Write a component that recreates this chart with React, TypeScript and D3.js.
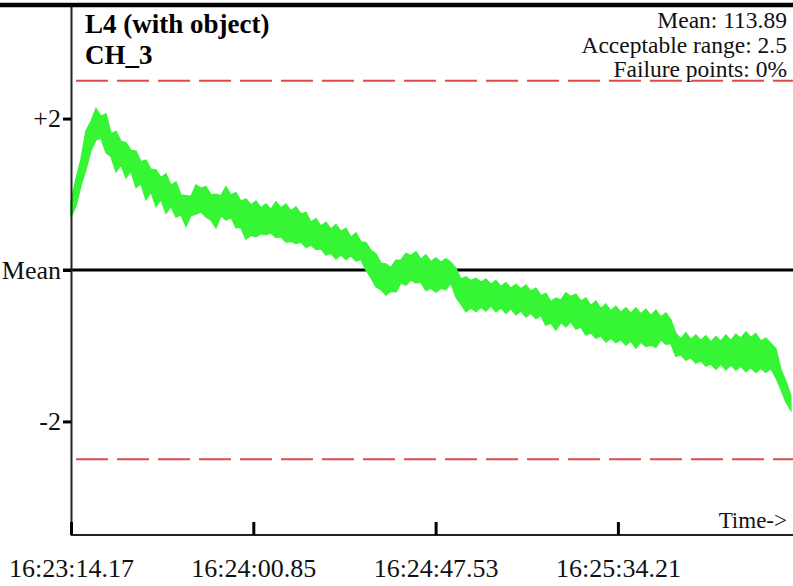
import { useRef, useEffect } from 'react';
import * as d3 from 'd3';

// deviation from mean, per-sample max / min of the signal (one sample every SAMPLE_DT seconds)
const upper = [
  0.9, 1.2, 1.46, 1.84, 1.96, 2.13, 2.03, 2.06, 1.8, 1.83, 1.7, 1.68, 1.58, 1.57, 1.43, 1.45, 1.33, 1.32, 1.22, 1.27,
  1.12, 1.16, 0.99, 0.98, 0.97, 1.12, 1.08, 1.1, 0.99, 1.0, 0.98, 1.1, 0.99, 1.02, 0.91, 0.94, 0.86, 0.91, 0.82, 0.87,
  0.8, 0.9, 0.82, 0.87, 0.78, 0.83, 0.74, 0.76, 0.63, 0.68, 0.58, 0.63, 0.54, 0.6, 0.51, 0.55, 0.43, 0.49, 0.37, 0.36,
  0.26, 0.21, 0.09, 0.08, 0.03, 0.13, 0.13, 0.22, 0.19, 0.24, 0.14, 0.2, 0.11, 0.16, 0.1, 0.15, 0.1, 0.02, -0.12, -0.09,
  -0.14, -0.11, -0.16, -0.12, -0.19, -0.14, -0.22, -0.17, -0.24, -0.19, -0.25, -0.2, -0.28, -0.24, -0.34, -0.31, -0.42, -0.37, -0.4, -0.3,
  -0.35, -0.32, -0.41, -0.37, -0.47, -0.41, -0.51, -0.45, -0.54, -0.48, -0.56, -0.5, -0.57, -0.5, -0.58, -0.52, -0.6, -0.53, -0.62, -0.57,
  -0.66, -0.84, -0.91, -0.83, -0.92, -0.86, -0.93, -0.87, -0.95, -0.88, -0.94, -0.86, -0.93, -0.85, -0.9, -0.82, -0.89, -0.84, -0.94, -0.9,
  -0.97, -1.04, -1.31, -1.47, -1.66,
];
const lower = [
  0.7, 0.85, 1.12, 1.33, 1.58, 1.72, 1.74, 1.55, 1.5, 1.3, 1.39, 1.22, 1.31, 1.09, 1.14, 0.93, 1.03, 0.84, 0.93, 0.75,
  0.84, 0.7, 0.73, 0.58, 0.72, 0.74, 0.77, 0.7, 0.66, 0.56, 0.72, 0.66, 0.7, 0.56, 0.56, 0.41, 0.46, 0.44, 0.48, 0.47,
  0.49, 0.43, 0.44, 0.37, 0.38, 0.35, 0.37, 0.3, 0.33, 0.27, 0.28, 0.2, 0.22, 0.15, 0.2, 0.14, 0.19, 0.12, 0.14, 0.0,
  -0.1, -0.22, -0.26, -0.33, -0.28, -0.29, -0.17, -0.2, -0.13, -0.17, -0.16, -0.27, -0.24, -0.29, -0.24, -0.26, -0.17, -0.36, -0.45, -0.55,
  -0.5, -0.55, -0.49, -0.54, -0.47, -0.55, -0.5, -0.57, -0.51, -0.59, -0.54, -0.62, -0.57, -0.64, -0.6, -0.73, -0.7, -0.79, -0.69, -0.75,
  -0.68, -0.78, -0.75, -0.86, -0.83, -0.9, -0.87, -0.95, -0.9, -0.96, -0.92, -0.99, -0.94, -1.03, -0.95, -1.01, -0.99, -1.02, -0.92, -0.98,
  -0.97, -1.14, -1.12, -1.19, -1.16, -1.23, -1.2, -1.27, -1.24, -1.31, -1.24, -1.32, -1.25, -1.32, -1.27, -1.34, -1.29, -1.35, -1.3, -1.35,
  -1.3, -1.42, -1.57, -1.74, -1.85,
];
const SAMPLE_DT = 1.28;

const tickTimes = [0, 46.68, 93.36, 140.04];
const tickLabels = ['16:23:14.17', '16:24:00.85', '16:24:47.53', '16:25:34.21'];
const yTicks = [2, 0, -2];
const yTickLabels = ['+2', 'Mean', '-2'];
const limit = 2.5;
const infoLines = ['Mean: 113.89', 'Acceptable range: 2.5', 'Failure points: 0%'];

const App = () => {
  const svgRef = useRef<SVGSVGElement>(null);

  useEffect(() => {
    if (!svgRef.current) return;
    const width = 793;
    const height = 586;
    const left = 71;
    const right = 793;
    const top = 5;
    const bottom = 535;
    const font = '"Liberation Serif", "Times New Roman", serif';

    const svg = d3.select(svgRef.current).attr('width', width).attr('height', height);
    svg.selectAll('*').remove();

    const x = d3.scaleLinear().domain([0, 186.72]).range([left, left + 4 * 182.3]);
    const y = d3.scaleLinear().domain([-3.5, 3.5]).range([bottom, top]);

    // limits
    [limit, -limit].forEach((v) => {
      svg.append('line')
        .attr('x1', 76).attr('x2', right)
        .attr('y1', y(v)).attr('y2', y(v))
        .attr('stroke', '#e04a4a').attr('stroke-width', 2)
        .attr('stroke-dasharray', '32 9');
    });

    svg.append('line')
      .attr('x1', left - 8).attr('x2', right)
      .attr('y1', y(0)).attr('y2', y(0))
      .attr('stroke', '#000').attr('stroke-width', 3);

    const area = d3.area<number>()
      .x((_, i) => x(i * SAMPLE_DT))
      .y0((_, i) => y(lower[i]))
      .y1((d) => y(d));

    svg.append('path')
      .datum(upper)
      .attr('d', area)
      .attr('fill', '#35f535')
      .attr('stroke', '#35f535')
      .attr('stroke-width', 1.5);

    // left axis
    const yAxis = svg.append('g')
      .attr('transform', `translate(${left},0)`)
      .call(d3.axisLeft(y).tickValues(yTicks).tickFormat((_, i) => yTickLabels[i]).tickSizeInner(8).tickSizeOuter(0).tickPadding(2));
    yAxis.select('.domain').attr('stroke', '#222').attr('stroke-width', 2);
    yAxis.selectAll('.tick line').attr('stroke', '#000').attr('stroke-width', 3);
    yAxis.selectAll('.tick text').attr('font-family', font).attr('font-size', 26).attr('fill', '#111');

    // bottom axis
    const xAxis = svg.append('g')
      .attr('transform', `translate(0,${bottom})`)
      .call(d3.axisBottom(x).tickValues(tickTimes).tickFormat((_, i) => tickLabels[i]).tickSizeInner(-13).tickSizeOuter(0).tickPadding(24));
    xAxis.select('.domain').attr('d', `M${left},0H${right}`).attr('stroke', '#222').attr('stroke-width', 2);
    xAxis.selectAll('.tick line').attr('stroke', '#000').attr('stroke-width', 3);
    xAxis.selectAll('.tick text').attr('font-family', font).attr('font-size', 26).attr('fill', '#111');

    // top border
    svg.append('line')
      .attr('x1', 0).attr('x2', width).attr('y1', top).attr('y2', top)
      .attr('stroke', '#000').attr('stroke-width', 4.5);

    svg.append('text')
      .attr('x', 85).attr('y', 33)
      .attr('font-family', font).attr('font-size', 27).attr('font-weight', 'bold')
      .text('L4 (with object)');
    svg.append('text')
      .attr('x', 85).attr('y', 64)
      .attr('font-family', font).attr('font-size', 27).attr('font-weight', 'bold')
      .text('CH_3');

    svg.selectAll('.info')
      .data(infoLines)
      .enter()
      .append('text')
      .attr('x', 787)
      .attr('y', (_, i) => 28 + i * 24.5)
      .attr('text-anchor', 'end')
      .attr('font-family', font).attr('font-size', 23.5).attr('fill', '#111')
      .text((d) => d);

    svg.append('text')
      .attr('x', 787).attr('y', 528)
      .attr('text-anchor', 'end')
      .attr('font-family', font).attr('font-size', 23).attr('fill', '#111')
      .text('Time->');
  }, []);

  return <svg ref={svgRef} style={{ position: 'absolute', left: 0, top: 0, background: '#fff' }}></svg>;
};

export default App;
